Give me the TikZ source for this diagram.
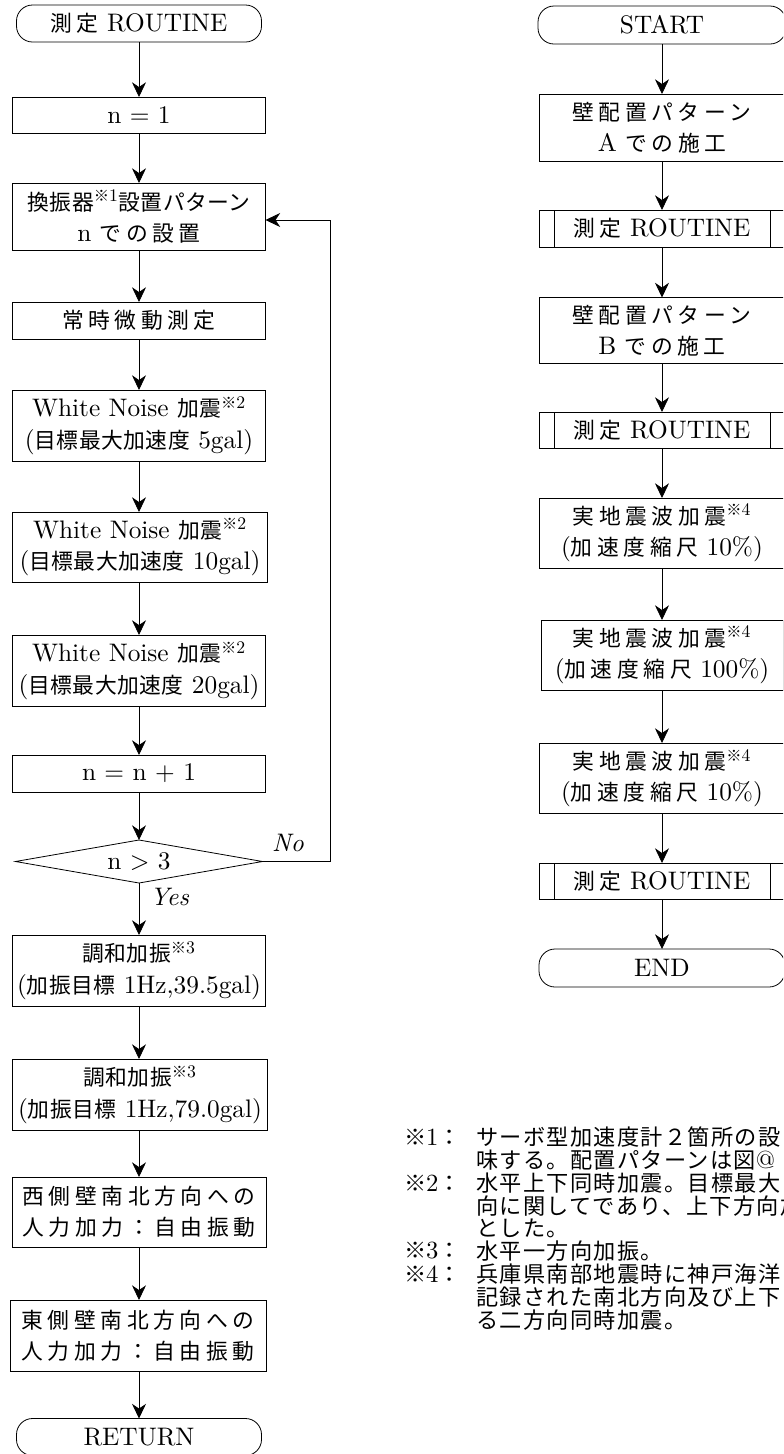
\documentclass[tikz,border=0pt]{standalone}
\usepackage{fontspec}
\setmainfont{lmroman10-regular.otf}[ItalicFont=lmroman10-italic.otf,BoldFont=lmroman10-bold.otf]
\newfontfamily\jp[Scale=0.86,LetterSpace=2]{Noto Sans CJK JP}
\newfontfamily\jpw[Scale=0.86,LetterSpace=21]{Noto Sans CJK JP}
\newfontfamily\jpn[Scale=0.9,LetterSpace=6]{Noto Sans CJK JP}
\usetikzlibrary{arrows.meta,shapes.geometric}
\begin{document}
\begin{tikzpicture}[x=0.75pt,y=-0.75pt,
  every node/.style={inner sep=0pt,outer sep=0pt},
  sz/.style 2 args={minimum width=#1*0.75pt,minimum height=#2*0.75pt},
  box/.style={draw,line width=0.6pt,align=center,font=\fontsize{19}{23.5}\selectfont},
  term/.style={box,rounded corners=12pt},
  pp/.style={box,path picture={
    \draw[line width=0.6pt] ([xshift=11.25pt]path picture bounding box.north west) -- ([xshift=11.25pt]path picture bounding box.south west);
    \draw[line width=0.6pt] ([xshift=-11.25pt]path picture bounding box.north east) -- ([xshift=-11.25pt]path picture bounding box.south east);}},
  dec/.style={box,diamond,shape aspect=5.7},
  arr/.style={-{Stealth[length=11pt,width=10.5pt,inset=3.5pt]},line width=0.6pt},
  lbl/.style={anchor=west,font=\fontsize{19}{19}\selectfont\itshape},
  note/.style={anchor=west,font=\fontsize{18.5}{18.5}\selectfont}
]
\useasboundingbox (0,0) rectangle (783,1454);
\clip (0,0) rectangle (783,1454);
% left column
\node[term,sz={245}{37}] (t1) at (139,23.5) {{\jpw 測定} ROUTINE};
\node[box,sz={253}{36}] (b1) at (139,115) {n = 1};
\node[box,sz={253}{67}] (b2) at (139,216.5) {{\jp 換振器}\textsuperscript{{\jp ※}1}{\jp 設置パターン}\\n {\jpw での設置}};
\node[box,sz={253}{37}] (b3) at (139,320.5) {{\jpw 常時微動測定}};
\node[box,sz={253}{71}] (b4) at (139,425.5) {White Noise {\jp 加震}\textsuperscript{{\jp ※}2}\\({\jp 目標最大加速度} 5gal)};
\node[box,sz={255}{70}] (b5) at (140,547) {White Noise {\jp 加震}\textsuperscript{{\jp ※}2}\\({\jp 目標最大加速度} 10gal)};
\node[box,sz={253}{71}] (b6) at (139,670.5) {White Noise {\jp 加震}\textsuperscript{{\jp ※}2}\\({\jp 目標最大加速度} 20gal)};
\node[box,sz={253}{37}] (b7) at (139,773.5) {n = n + 1};
\node[dec,sz={247}{43}] (dia) at (139,861.5) {n > 3};
\node[box,sz={253}{71}] (b8) at (139,970.5) {{\jp 調和加振}\textsuperscript{{\jp ※}3}\\({\jp 加振目標} 1Hz,39.5gal)};
\node[box,sz={255}{71}] (b9) at (140,1094.5) {{\jp 調和加振}\textsuperscript{{\jp ※}3}\\({\jp 加振目標} 1Hz,79.0gal)};
\node[box,sz={254}{70}] (b10) at (139,1212) {{\jpw 西側壁南北方向への}\\{\jpw 人力加力：自由振動}};
\node[box,sz={256}{71}] (b11) at (138,1335.5) {{\jpw 東側壁南北方向への}\\{\jpw 人力加力：自由振動}};
\node[term,sz={245}{37}] (t2) at (139,1437) {RETURN};
\draw[arr] (t1) -- (b1);
\draw[arr] (b1) -- (b2);
\draw[arr] (b2) -- (b3);
\draw[arr] (b3) -- (b4);
\draw[arr] (b4) -- (b5.north -| b4.south);
\draw[arr] (b5.south -| b4.south) -- (b6);
\draw[arr] (b6) -- (b7);
\draw[arr] (b7) -- (dia);
\draw[arr] (dia) -- (b8);
\draw[arr] (b8) -- (b9.north -| b8.south);
\draw[arr] (b9.south -| b8.south) -- (b10);
\draw[arr] (b10) -- (b11.north -| b10.south);
\draw[arr] (b11.south -| b10.south) -- (t2);
\coordinate (l1) at (330,861.5);
\coordinate (l2) at (330,220);
\draw[arr] (dia.east) -- (l1) -- (l2) -- (l2 -| b2.east);
\node[lbl] (no) at (272,843) {No};
\node[lbl] (yes) at (150,897) {Yes};
% right column
\node[term,sz={248}{38}] (rs) at (662,25) {START};
\node[box,sz={246}{67}] (r1) at (662,127.5) {{\jpw 壁配置パターン}\\A {\jpw での施工}};
\node[pp,sz={246}{37}] (r2) at (662,228.5) {{\jpw 測定} ROUTINE};
\node[box,sz={246}{66}] (r3) at (662,330.5) {{\jpw 壁配置パターン}\\B {\jpw での施工}};
\node[pp,sz={246}{36}] (r4) at (662,430) {{\jpw 測定} ROUTINE};
\node[box,sz={246}{70}] (r5) at (662,533) {{\jpw 実地震波加震}\textsuperscript{{\jp ※}4}\\({\jpw 加速度縮尺} 10\%)};
\node[box,sz={242}{70}] (r6) at (662,655) {{\jpw 実地震波加震}\textsuperscript{{\jp ※}4}\\({\jpw 加速度縮尺} 100\%)};
\node[box,sz={246}{70}] (r7) at (662,778) {{\jpw 実地震波加震}\textsuperscript{{\jp ※}4}\\({\jpw 加速度縮尺} 10\%)};
\node[pp,sz={246}{36}] (r8) at (662,881) {{\jpw 測定} ROUTINE};
\node[term,sz={246}{38}] (re) at (662,968) {END};
\draw[arr] (rs) -- (r1);
\draw[arr] (r1) -- (r2);
\draw[arr] (r2) -- (r3);
\draw[arr] (r3) -- (r4);
\draw[arr] (r4) -- (r5);
\draw[arr] (r5) -- (r6);
\draw[arr] (r6) -- (r7);
\draw[arr] (r7) -- (r8);
\draw[arr] (r8) -- (re);
% notes
\node[note] (k1) at (404,1137) {{\jpn ※}1{\jpn ：}};
\node[note] (n1) at (476,1137) {{\jpn サーボ型加速度計２箇所の設}};
\node[note] (n2) at (476,1160) {{\jpn 味する。配置パターンは図}@};
\node[note] (k2) at (404,1183) {{\jpn ※}2{\jpn ：}};
\node[note] (n3) at (476,1183) {{\jpn 水平上下同時加震。目標最大}};
\node[note] (n4) at (476,1206) {{\jpn 向に関してであり、上下方向加}};
\node[note] (n5) at (476,1228) {{\jpn とした。}};
\node[note] (k3) at (404,1251) {{\jpn ※}3{\jpn ：}};
\node[note] (n6) at (476,1251) {{\jpn 水平一方向加振。}};
\node[note] (k4) at (404,1274) {{\jpn ※}4{\jpn ：}};
\node[note] (n7) at (476,1274) {{\jpn 兵庫県南部地震時に神戸海洋}};
\node[note] (n8) at (476,1297) {{\jpn 記録された南北方向及び上下}};
\node[note] (n9) at (476,1320) {{\jpn る二方向同時加震。}};
\end{tikzpicture}
\end{document}
